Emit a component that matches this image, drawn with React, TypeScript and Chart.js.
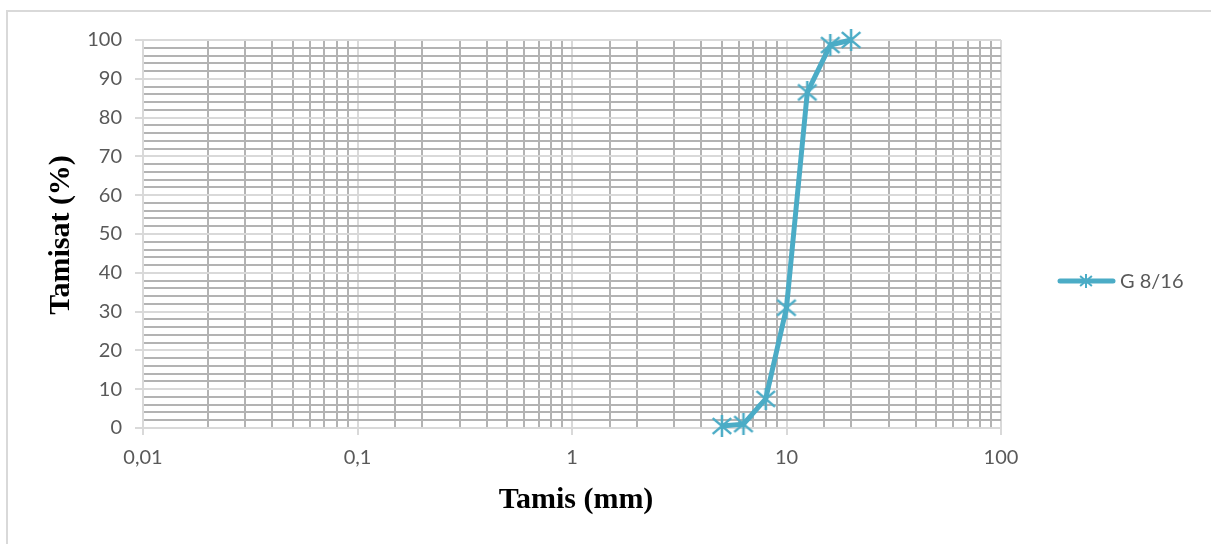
import React, { useEffect, useRef } from "react";
import { Chart, registerables } from "chart.js";

Chart.register(...registerables);

// Sieve openings (mm) and cumulative passing (%)
const sieveSizes = [5, 6.3, 8, 10, 12.5, 16, 20];
const passing = [0.5, 1, 7.5, 31, 86.5, 98.7, 100];
const seriesName = "G 8/16";

const xDecadeLabels: Record<string, string> = {
  "0.01": "0,01",
  "0.1": "0,1",
  "1": "1",
  "10": "10",
  "100": "100",
};
const yTickStep = 2;
const yLabelStep = 10;

const xTitle = "Tamis (mm)";
const yTitle = "Tamisat (%)";

const LINE_COLOR = "#4bacc6";
const MAJOR_GRID = "#d9d9d9";
const MINOR_GRID = "#b3b3b3";
const LABEL_COLOR = "#595959";
const LABEL_FONT = "Lato";

function makeMarker(s: number, w: number): HTMLCanvasElement {
  const c = document.createElement("canvas");
  c.width = s;
  c.height = s;
  const g = c.getContext("2d")!;
  g.strokeStyle = LINE_COLOR;
  g.lineWidth = w;
  const m = s / 2;
  const d = s * 0.42;
  g.beginPath();
  g.moveTo(m - d, m - d * 0.85);
  g.lineTo(m + d, m + d * 0.85);
  g.moveTo(m + d, m - d * 0.85);
  g.lineTo(m - d, m + d * 0.85);
  g.moveTo(m, 0);
  g.lineTo(m, s);
  g.stroke();
  return c;
}

const isDecade = (v: number) => {
  const l = Math.log10(v);
  return Math.abs(l - Math.round(l)) < 1e-6;
};

export default function App() {
  const canvasRef = useRef<HTMLCanvasElement | null>(null);

  useEffect(() => {
    document.body.style.margin = "0";
    const canvas = canvasRef.current;
    if (!canvas) return;
    const marker = makeMarker(22, 2.5);
    const legendMarker = makeMarker(14, 2);

    const decorations = {
      id: "decorations",
      afterDraw(chart: any) {
        const ctx = chart.ctx as CanvasRenderingContext2D;
        ctx.save();
        // frame
        ctx.strokeStyle = "#d9d9d9";
        ctx.lineWidth = 2;
        ctx.beginPath();
        ctx.moveTo(7, 544);
        ctx.lineTo(7, 11);
        ctx.lineTo(1211, 11);
        ctx.stroke();

        // axis titles
        ctx.fillStyle = "#000";
        ctx.font = "bold 30px 'Liberation Serif', 'Times New Roman', serif";
        ctx.textAlign = "center";
        ctx.textBaseline = "middle";
        ctx.fillText(xTitle, 576, 500);
        ctx.save();
        ctx.translate(61, 235);
        ctx.rotate(-Math.PI / 2);
        ctx.font = "bold 30px 'Liberation Serif', 'Times New Roman', serif";
        ctx.fillText(yTitle, 0, 0);
        ctx.restore();

        // legend
        const ly = 281;
        ctx.strokeStyle = LINE_COLOR;
        ctx.lineWidth = 5;
        ctx.lineCap = "round";
        ctx.beginPath();
        ctx.moveTo(1060, ly);
        ctx.lineTo(1113, ly);
        ctx.stroke();
        ctx.drawImage(legendMarker, 1086 - 7, ly - 7);
        ctx.fillStyle = LABEL_COLOR;
        ctx.font = `20px ${LABEL_FONT}`;
        ctx.textAlign = "left";
        ctx.fillText(seriesName, 1120, ly + 1);
        ctx.restore();
      },
    };

    const chart = new Chart(canvas, {
      type: "line",
      data: {
        datasets: [
          {
            label: seriesName,
            data: sieveSizes.map((x, i) => ({ x, y: passing[i] })),
            borderColor: LINE_COLOR,
            backgroundColor: LINE_COLOR,
            borderWidth: 5,
            pointStyle: marker as any,
            pointRadius: 11,
            tension: 0,
            borderJoinStyle: "round",
            clip: false as any,
          },
        ],
      },
      options: {
        animation: false,
        responsive: false,
        maintainAspectRatio: false,
        layout: { padding: { left: 0, top: 40, right: 210, bottom: 0 } },
        plugins: { legend: { display: false }, tooltip: { enabled: false } },
        scales: {
          x: {
            type: "logarithmic",
            min: 0.01,
            max: 100,
            afterFit(scale: any) {
              scale.height = 116;
            },
            border: { color: MAJOR_GRID, width: 2 },
            grid: {
              color: (c: any) => (c.tick && isDecade(c.tick.value) ? MAJOR_GRID : MINOR_GRID),
              tickColor: (c: any) => (c.tick && isDecade(c.tick.value) ? MAJOR_GRID : "rgba(0,0,0,0)"),
              tickLength: 7,
              lineWidth: 2,
            },
            ticks: {
              autoSkip: false,
              maxRotation: 0,
              padding: 11,
              color: LABEL_COLOR,
              font: { family: LABEL_FONT, size: 20 },
              callback: (v: any) => {
                const n = Number(v);
                if (!isDecade(n)) return "";
                return xDecadeLabels[String(Number(n.toPrecision(6)))] ?? "";
              },
            },
          },
          y: {
            type: "linear",
            min: 0,
            max: 100,
            afterFit(scale: any) {
              scale.width = 143;
            },
            border: { color: MAJOR_GRID, width: 2 },
            grid: {
              color: (c: any) => (c.tick && Math.round(c.tick.value) % yLabelStep === 0 ? MAJOR_GRID : MINOR_GRID),
              tickColor: (c: any) =>
                c.tick && Math.round(c.tick.value) % yLabelStep === 0 ? MAJOR_GRID : "rgba(0,0,0,0)",
              tickLength: 8,
              lineWidth: 2,
            },
            ticks: {
              stepSize: yTickStep,
              autoSkip: false,
              padding: 13,
              color: LABEL_COLOR,
              font: { family: LABEL_FONT, size: 20 },
              callback: (v: any) => (Math.round(Number(v)) % yLabelStep === 0 ? String(v) : ""),
            },
          },
        },
      },
      plugins: [decorations],
    });

    return () => chart.destroy();
  }, []);

  return (
    <div style={{ position: "relative", width: 1211, height: 544 }}>
      <canvas ref={canvasRef} width={1211} height={544} style={{ display: "block" }} />
    </div>
  );
}
